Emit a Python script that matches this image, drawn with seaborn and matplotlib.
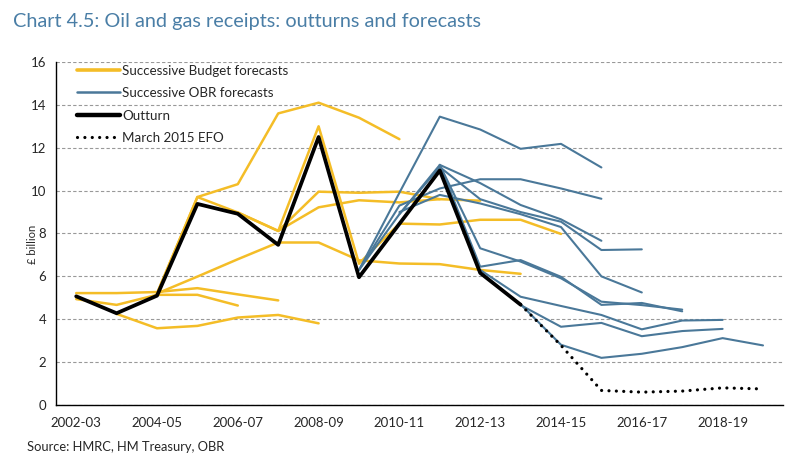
import numpy as np
import pandas as pd
import matplotlib.pyplot as plt
import seaborn as sns
from matplotlib.lines import Line2D

N = np.nan

# Fiscal years on the x axis (ticks labelled every other year)
years = ["2002-03", "2003-04", "2004-05", "2005-06", "2006-07", "2007-08",
         "2008-09", "2009-10", "2010-11", "2011-12", "2012-13", "2013-14",
         "2014-15", "2015-16", "2016-17", "2017-18", "2018-19", "2019-20"]
tick_labels = years[::2]
y_ticks = [0, 2, 4, 6, 8, 10, 12, 14, 16]

# Outturn and latest forecast (£ billion)
outturn = [5.07, 4.28, 5.1, 9.38, 8.92, 7.47, 12.5, 5.96, 8.45, 10.94, 6.16, 4.68,
           N, N, N, N, N, N]
efo_march_2015 = [N, N, N, N, N, N, N, N, N, N, N, 4.68,
                  2.78, 0.68, 0.6, 0.65, 0.8, 0.75]

# Successive Budget forecasts
budget_a = [4.94, 4.67, 5.14, 5.14, 4.64, N, N, N, N, N, N, N, N, N, N, N, N, N]
budget_b = [5.22, 5.22, 5.27, 5.45, 5.16, 4.88, N, N, N, N, N, N, N, N, N, N, N, N]
budget_c = [N, 4.25, 3.58, 3.69, 4.08, 4.2, 3.81, N, N, N, N, N, N, N, N, N, N, N]
budget_d = [N, N, 5.2, 5.99, 6.8, 7.58, 7.58, 6.75, 6.6, 6.57, 6.3, 6.12, N, N, N, N, N, N]
budget_e = [N, N, 5.2, 9.7, 10.3, 13.6, 14.1, 13.4, 12.4, N, N, N, N, N, N, N, N, N]
budget_f = [N, N, 5.2, 9.7, 8.98, 8.12, 13.0, 6.6, N, N, N, N, N, N, N, N, N, N]
budget_g = [N, N, N, N, 8.98, 8.12, 9.95, 9.9, 9.95, 9.6, N, N, N, N, N, N, N, N]
budget_h = [N, N, N, N, N, 8.12, 9.22, 9.55, 9.45, 9.6, 9.53, N, N, N, N, N, N, N]
budget_i = [N, N, N, N, N, N, N, 6.6, 8.46, 8.42, 8.64, 8.64, 7.98, N, N, N, N, N]

# Successive OBR forecasts
obr_a = [N, N, N, N, N, N, N, 6.3, 9.9, 13.45, 12.85, 11.95, 12.18, 11.08, N, N, N, N]
obr_b = [N, N, N, N, N, N, N, 6.3, 9.3, 10.1, 10.53, 10.53, 10.1, 9.62, N, N, N, N]
obr_c = [N, N, N, N, N, N, N, 6.3, 8.9, 11.2, 10.35, 9.33, 8.66, 7.66, N, N, N, N]
obr_d = [N, N, N, N, N, N, N, N, 8.9, 11.1, 9.6, 9.0, 8.55, 7.23, 7.26, N, N, N]
obr_e = [N, N, N, N, N, N, N, N, 9.0, 9.8, 9.4, 8.9, 8.3, 6.0, 5.25, N, N, N]
obr_f = [N, N, N, N, N, N, N, N, N, 11.2, 7.31, 6.69, 5.91, 4.82, 4.66, 4.45, N, N]
obr_g = [N, N, N, N, N, N, N, N, N, 11.2, 6.45, 6.76, 5.98, 4.67, 4.76, 4.37, N, N]
obr_h = [N, N, N, N, N, N, N, N, N, N, 6.3, 5.05, 4.62, 4.2, 3.53, 3.94, 3.97, N]
obr_i = [N, N, N, N, N, N, N, N, N, N, 6.2, 4.66, 3.65, 3.83, 3.21, 3.45, 3.55, N]
obr_j = [N, N, N, N, N, N, N, N, N, N, N, 4.7, 2.81, 2.2, 2.39, 2.7, 3.12, 2.78]

YELLOW = "#f4bd27"
BLUE = "#4a7899"
TITLE_BLUE = "#4a7ea6"


def a_largo(series, grupo):
    # pasar las listas a formato largo para seaborn
    filas = []
    for nombre, valores in series.items():
        for i, v in enumerate(valores):
            if not np.isnan(v):
                filas.append({"pos": i, "valor": v, "serie": nombre, "grupo": grupo})
    return pd.DataFrame(filas)


df_budget = a_largo({"a": budget_a, "b": budget_b, "c": budget_c, "d": budget_d,
                     "e": budget_e, "f": budget_f, "g": budget_g, "h": budget_h,
                     "i": budget_i}, "budget")
df_obr = a_largo({"a": obr_a, "b": obr_b, "c": obr_c, "d": obr_d, "e": obr_e,
                  "f": obr_f, "g": obr_g, "h": obr_h, "i": obr_i, "j": obr_j}, "obr")
df_out = a_largo({"outturn": outturn}, "outturn")
df_efo = a_largo({"efo": efo_march_2015}, "efo")

sns.set_style("white")
plt.rcParams["font.family"] = ["Lato", "DejaVu Sans"]

fig = plt.figure(figsize=(8, 4.59), dpi=100)
ax = fig.add_axes([0.07, 0.1176, 0.909, 0.7474])

sns.lineplot(data=df_budget, x="pos", y="valor", units="serie", estimator=None,
             color=YELLOW, linewidth=1.8, ax=ax, legend=False)
sns.lineplot(data=df_obr, x="pos", y="valor", units="serie", estimator=None,
             color=BLUE, linewidth=1.5, ax=ax, legend=False)
sns.lineplot(data=df_out, x="pos", y="valor", color="black", linewidth=2.7,
             ax=ax, legend=False)
sns.lineplot(data=df_efo, x="pos", y="valor", color="black", linewidth=2.3,
             ax=ax, legend=False, linestyle=(0, (0.01, 2.3)))
ax.lines[-1].set_dash_capstyle("round")

# Ejes
ax.set_xlim(-0.5, len(years) - 0.5)
ax.set_ylim(0, 16)
ax.set_xticks(range(0, len(years), 2))
ax.set_xticklabels(tick_labels)
ax.set_xticks(np.arange(-0.5, len(years), 1), minor=True)
ax.tick_params(axis="x", which="major", length=0, labelsize=9.5, pad=8.5)
ax.tick_params(axis="x", which="minor", length=3, width=1, direction="out", color="black")
ax.set_yticks(y_ticks)
ax.tick_params(axis="y", length=4, width=1, direction="out", labelsize=9.5, color="black", pad=3)
ax.set_xlabel("")
ax.set_ylabel("")
ax.yaxis.grid(True, linestyle=(0, (3, 2)), color="#999999", linewidth=0.8)
ax.set_axisbelow(True)
for lado in ["top", "right"]:
    ax.spines[lado].set_visible(False)
for lado in ["left", "bottom"]:
    ax.spines[lado].set_color("black")
    ax.spines[lado].set_linewidth(1)

# Leyenda
handles = [
    Line2D([], [], color=YELLOW, linewidth=2.6),
    Line2D([], [], color=BLUE, linewidth=1.8),
    Line2D([], [], color="black", linewidth=3.2),
    Line2D([], [], color="black", linewidth=2.3, linestyle=(0, (0.01, 2.3)),
           dash_capstyle="round"),
]
labels = ["Successive Budget forecasts", "Successive OBR forecasts", "Outturn",
          "March 2015 EFO"]
ax.legend(handles, labels, loc="upper left", bbox_to_anchor=(0.029, 0.992),
          frameon=False, fontsize=9.6, handlelength=3.2, handletextpad=0.2,
          labelspacing=0.78, borderpad=0, borderaxespad=0)

fig.text(0.016, 0.941, "Chart 4.5: Oil and gas receipts: outturns and forecasts",
         color=TITLE_BLUE, fontsize=14.3, va="baseline", ha="left")
fig.text(0.041, 0.468, "£ billion", rotation=90, fontsize=8, va="center", ha="center")
fig.text(0.034, 0.017, "Source: HMRC, HM Treasury, OBR", fontsize=9.3,
         va="baseline", ha="left")

fig.savefig("out.png", dpi=100)
